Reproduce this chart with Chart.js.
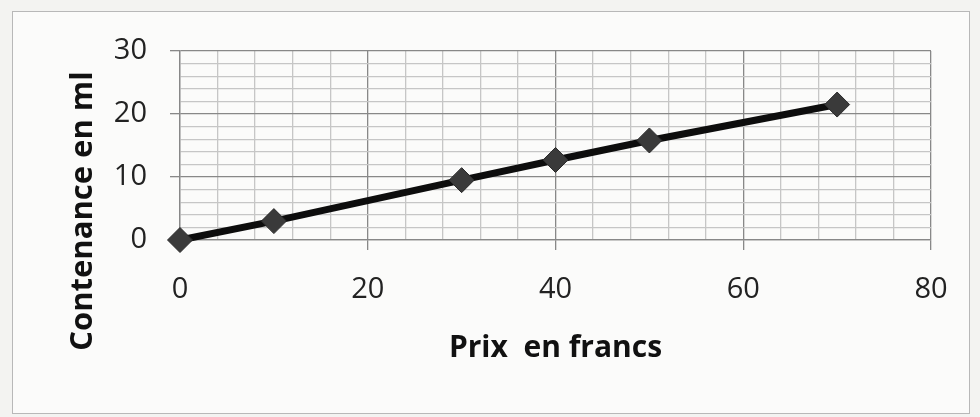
<!DOCTYPE html>
<html>
<head>
<meta charset="utf-8">
<script src="https://cdn.jsdelivr.net/npm/chart.js@4"></script>
<style>
  body { margin: 0; background: #f3f3f1; }
  #wrap { position: relative; width: 980px; height: 417px; }
  #frame { position: absolute; left: 12px; top: 11px; width: 956px; height: 401px; border: 1px solid #b8b8b8; background: #fbfbfa; }
  canvas { position: absolute; left: 0; top: 0; }
</style>
</head>
<body>
<div id="wrap">
  <div id="frame"></div>
  <canvas id="myChart" width="980" height="417"></canvas>
</div>
<script>
// values
const prix = [0, 10, 30, 40, 50, 70];
const contenance = [0, 3, 9.5, 12.7, 15.8, 21.5];
const xTicks = [0, 20, 40, 60, 80];
const yTicks = [0, 10, 20, 30];
const xTitle = "Prix  en francs";
const yTitle = "Contenance en ml";

const fontFamily = "'Open Sans', 'DejaVu Sans', sans-serif";

function gridColor(ctx, major) {
  return ctx.tick && ctx.tick.value % major === 0 ? "#888" : "#c6c6c6";
}
function tickMarkColor(ctx, major) {
  return ctx.tick && ctx.tick.value % major === 0 ? "#888" : "rgba(0,0,0,0)";
}

// the y title sits lower than the plot centre in the original, so draw it by hand
const yTitlePlugin = {
  id: "yTitle",
  afterDraw(chart) {
    const c = chart.ctx;
    c.save();
    c.translate(92, 211);
    c.rotate(-Math.PI / 2);
    c.font = "bold 31px " + fontFamily;
    c.fillStyle = "#111";
    c.textAlign = "center";
    c.textBaseline = "alphabetic";
    c.fillText(yTitle, 0, 0);
    c.restore();
  },
};

var ctx = document.getElementById("myChart").getContext("2d");
var chart = new Chart(ctx, {
  type: "line",
  data: {
    datasets: [
      {
        data: prix.map((p, i) => ({ x: p, y: contenance[i] })),
        borderColor: "#0d0d0d",
        borderWidth: 7,
        backgroundColor: "#3a3a3a",
        pointStyle: "rectRot",
        pointRadius: 12.5,
        pointBorderColor: "#2a2a2a",
        pointBorderWidth: 1,
        tension: 0,
        clip: false,
      },
    ],
  },
  options: {
    responsive: false,
    animation: false,
    layout: { padding: { left: 0, top: 51, right: 49, bottom: 51 } },
    plugins: { legend: { display: false }, tooltip: { enabled: false } },
    scales: {
      x: {
        type: "linear",
        min: xTicks[0],
        max: xTicks[xTicks.length - 1],
        ticks: {
          stepSize: 4,
          autoSkip: false,
          maxRotation: 0,
          padding: 22,
          color: "#222",
          font: { family: fontFamily, size: 29 },
          callback: (v) => (xTicks.includes(v) ? v : ""),
        },
        grid: {
          color: (c) => gridColor(c, 20),
          tickColor: (c) => tickMarkColor(c, 20),
          tickLength: 10,
          lineWidth: 1.3,
        },
        border: { color: "#888", width: 1.3 },
        title: {
          display: true,
          text: xTitle,
          color: "#111",
          font: { family: fontFamily, size: 30, weight: "bold" },
          padding: { top: 0, bottom: 0 },
        },
        afterFit: (scale) => { scale.height = 126; },
      },
      y: {
        type: "linear",
        min: yTicks[0],
        max: yTicks[yTicks.length - 1],
        ticks: {
          stepSize: 2,
          autoSkip: false,
          padding: 23,
          color: "#222",
          font: { family: fontFamily, size: 29 },
          callback: (v) => (yTicks.includes(v) ? v : ""),
        },
        grid: {
          color: (c) => gridColor(c, 10),
          tickColor: (c) => tickMarkColor(c, 10),
          tickLength: 10,
          lineWidth: 1.3,
        },
        border: { color: "#888", width: 1.3 },
        afterFit: (scale) => { scale.width = 180; },
      },
    },
  },
  plugins: [yTitlePlugin],
});
</script>
</body>
</html>
